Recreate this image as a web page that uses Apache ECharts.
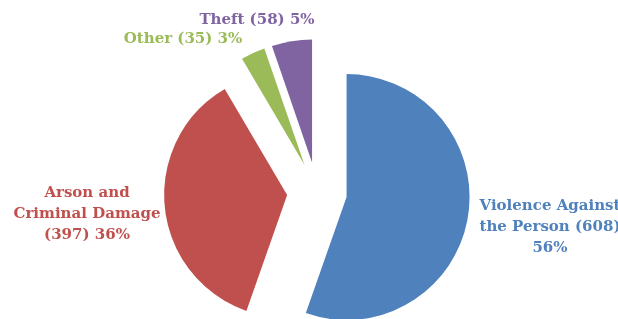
<!DOCTYPE html>
<html>
<head>
<meta charset="utf-8">
<script src="https://cdn.jsdelivr.net/npm/echarts@6/dist/echarts.min.js"></script>
<style>
    html, body { margin: 0; padding: 0; background: #fff; }
    #chart { width: 618px; height: 319px; }
</style>
</head>
<body>
<div id="chart"></div>
<script>
    // data
    var categories = ['Violence Against the Person', 'Arson and Criminal Damage', 'Other', 'Theft'];
    var counts = [608, 397, 35, 58];
    var percentLabels = ['56%', '36%', '3%', '5%'];
    var colors = ['#4F81BD', '#C0504D', '#9BBB59', '#8064A2'];
    // label text as it is wrapped in the picture
    var labelTexts = [
        'Violence Against\nthe Person (608)\n56%',
        'Arson and\nCriminal Damage\n(397) 36%',
        'Other (35) 3%',
        'Theft (58) 5%'
    ];

    // where each label sits (centre of the text block)
    var labelPos = [[550, 227], [87, 214], [183, 39], [257, 20]];

    var dom = document.getElementById('chart');
    var myChart = echarts.init(dom);

    var pieData = [];
    var labels = [];
    for (var i = 0; i < counts.length; i++) {
        pieData.push({
            name: categories[i],
            value: counts[i],
            selected: true,
            itemStyle: {color: colors[i]}
        });
        labels.push({
            type: 'text',
            z: 100,
            style: {
                text: labelTexts[i],
                x: labelPos[i][0],
                y: labelPos[i][1],
                textAlign: 'center',
                textVerticalAlign: 'middle',
                font: 'bold 15px "DejaVu Serif"',
                lineHeight: 21,
                fill: colors[i]
            }
        });
    }

    var option = {
        animation: false,
        graphic: labels,
        series: [{
            type: 'pie',
            center: [317, 192],
            radius: 123,
            startAngle: 90,
            clockwise: true,
            selectedMode: 'multiple',
            selectedOffset: 30,
            label: {show: false},
            labelLine: {show: false},
            emphasis: {disabled: true},
            data: pieData
        }]
    };
    myChart.setOption(option);
</script>
</body>
</html>
